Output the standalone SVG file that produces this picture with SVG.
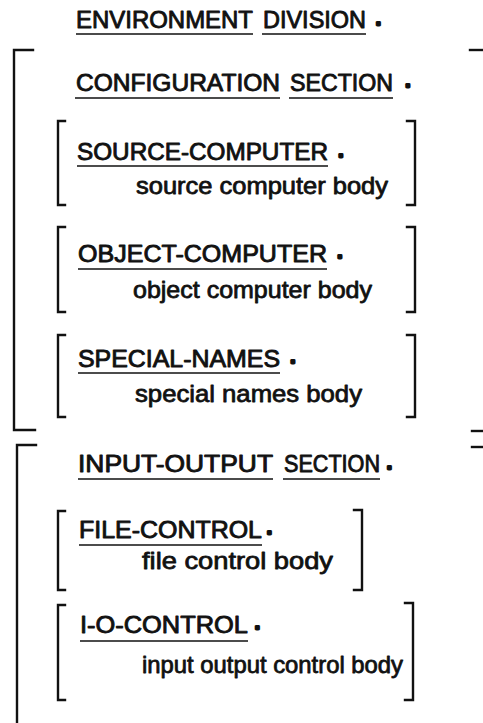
<svg xmlns="http://www.w3.org/2000/svg" width="483" height="723" viewBox="0 0 483 723">
  <style>
    .kw, .body, .dot { font-family: "Liberation Sans", Arial, Helvetica, sans-serif; fill: #111; stroke: #111; stroke-linejoin: round; }
    .kw { font-size: 24px; stroke-width: 0.9; }
    .body { font-size: 24px; stroke-width: 0.8; }
    .dot { font-size: 24px; stroke-width: 3; }
    .ul { stroke: #111; stroke-width: 1.6; fill: none; }
    .br { stroke: #111; stroke-width: 2.4; fill: none; stroke-linecap: square; stroke-linejoin: miter; }
  </style>
  <rect width="483" height="723" fill="#fff"/>

  <!-- division header -->
  <g id="environment-division">
    <text class="kw" x="76" y="27.5" textLength="177" lengthAdjust="spacingAndGlyphs">ENVIRONMENT</text>
    <text class="kw" x="263" y="27.5" textLength="103" lengthAdjust="spacingAndGlyphs">DIVISION</text>
    <text class="dot" x="375" y="24.5">.</text>
    <path class="ul" d="M76 34H253M262 34H366"/>
  </g>

  <!-- configuration section -->
  <g id="configuration-section">
    <path class="br" d="M33 50H14V430H35"/>
    <path class="br" d="M470 50H483"/>
    <path class="br" d="M472 431H483"/>
    <text class="kw" x="76" y="91" textLength="204" lengthAdjust="spacingAndGlyphs">CONFIGURATION</text>
    <text class="kw" x="290" y="91" textLength="103" lengthAdjust="spacingAndGlyphs">SECTION</text>
    <text class="dot" x="404.6" y="87.3">.</text>
    <path class="ul" d="M75 98H280M289 98H393"/>
  </g>

  <g id="source-computer">
    <path class="br" d="M65 121H58V205H65"/>
    <path class="br" d="M407 121H415V205H407"/>
    <text class="kw" x="77" y="160" textLength="251" lengthAdjust="spacingAndGlyphs">SOURCE-COMPUTER</text>
    <text class="dot" x="337.6" y="157.3">.</text>
    <path class="ul" d="M77 166H328"/>
    <text class="body" x="136" y="194" textLength="252" lengthAdjust="spacingAndGlyphs">source computer body</text>
  </g>

  <g id="object-computer">
    <path class="br" d="M65 227H58V312H65"/>
    <path class="br" d="M407 227H415V312H407"/>
    <text class="kw" x="78" y="262" textLength="249" lengthAdjust="spacingAndGlyphs">OBJECT-COMPUTER</text>
    <text class="dot" x="336.6" y="258">.</text>
    <path class="ul" d="M78 269H327"/>
    <text class="body" x="133" y="298" textLength="239" lengthAdjust="spacingAndGlyphs">object computer body</text>
  </g>

  <g id="special-names">
    <path class="br" d="M65 335H58V417H65"/>
    <path class="br" d="M407 335H415V417H407"/>
    <text class="kw" x="78" y="367" textLength="202" lengthAdjust="spacingAndGlyphs">SPECIAL-NAMES</text>
    <text class="dot" x="289.6" y="363">.</text>
    <path class="ul" d="M78 373H280"/>
    <text class="body" x="135" y="402" textLength="227" lengthAdjust="spacingAndGlyphs">special names body</text>
  </g>

  <!-- input-output section -->
  <g id="input-output-section">
    <path class="br" d="M36 445H17V723"/>
    <path class="br" d="M472 447H483"/>
    <text class="kw" x="78" y="472" textLength="195" lengthAdjust="spacingAndGlyphs">INPUT-OUTPUT</text>
    <text class="kw" transform="translate(284 472) scale(0.9 1)">SECTION</text>
    <text class="dot" x="386" y="469">.</text>
    <path class="ul" d="M78 479H273M283 479H380"/>
  </g>

  <g id="file-control">
    <path class="br" d="M65 511H58V590H65"/>
    <path class="br" d="M354 510H362V590H354"/>
    <text class="kw" x="79" y="538" textLength="183" lengthAdjust="spacingAndGlyphs">FILE-CONTROL</text>
    <text class="dot" x="266" y="534">.</text>
    <path class="ul" d="M79 545H262"/>
    <text class="body" x="142" y="569" textLength="191" lengthAdjust="spacingAndGlyphs">file control body</text>
  </g>

  <g id="io-control">
    <path class="br" d="M65 605H58V700H65"/>
    <path class="br" d="M405 603H413V700H405"/>
    <text class="kw" x="80" y="633" textLength="168" lengthAdjust="spacingAndGlyphs">I-O-CONTROL</text>
    <text class="dot" x="254" y="629">.</text>
    <path class="ul" d="M80 641H248"/>
    <text class="body" x="142" y="673" textLength="261" lengthAdjust="spacingAndGlyphs">input output control body</text>
  </g>
</svg>
